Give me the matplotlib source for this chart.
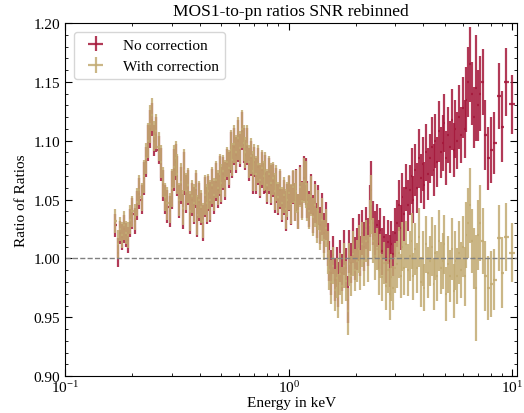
import numpy as np
import matplotlib.pyplot as plt

plt.rcParams['font.family'] = ['Liberation Serif', 'DejaVu Serif']
plt.rcParams['mathtext.fontset'] = 'stix'

# energy bins (keV)
energy = [
    0.168, 0.172, 0.176, 0.180, 0.184, 0.188, 0.192, 0.196, 0.200, 0.205, 0.210, 0.215, 0.220,
    0.225, 0.230, 0.235, 0.240, 0.245, 0.250, 0.256, 0.262, 0.268, 0.274, 0.280, 0.287, 0.294,
    0.300, 0.306, 0.312, 0.318, 0.324, 0.330, 0.336, 0.342, 0.349, 0.356, 0.363, 0.370, 0.377,
    0.384, 0.391, 0.398, 0.406, 0.414, 0.422, 0.430, 0.438, 0.446, 0.455, 0.464, 0.473, 0.482,
    0.491, 0.500,
    0.510, 0.520, 0.530, 0.540, 0.550, 0.560, 0.571, 0.582, 0.593, 0.604, 0.616, 0.628, 0.640,
    0.652, 0.664, 0.677, 0.690, 0.703, 0.716, 0.730, 0.744, 0.758, 0.772, 0.787, 0.802, 0.817,
    0.833, 0.849, 0.865, 0.881, 0.898, 0.915, 0.932, 0.950, 0.968, 0.986,
    1.005, 1.024, 1.043, 1.063, 1.083, 1.104, 1.125, 1.146, 1.168, 1.190, 1.213, 1.236, 1.259,
    1.283, 1.307, 1.332, 1.357, 1.383, 1.409, 1.436, 1.463, 1.491, 1.519, 1.548, 1.577, 1.607,
    1.638, 1.669, 1.700, 1.732, 1.765, 1.799, 1.833, 1.868, 1.903, 1.939, 1.976,
    2.014, 2.052, 2.091, 2.131, 2.171, 2.212, 2.254, 2.297, 2.341, 2.385, 2.430, 2.476, 2.523,
    2.571, 2.620, 2.670, 2.721, 2.772, 2.825, 2.878, 2.933, 2.989,
    3.046, 3.104, 3.163, 3.223, 3.284, 3.346, 3.410, 3.475, 3.541, 3.608, 3.676, 3.746, 3.817,
    3.890, 3.964, 4.039, 4.116, 4.194, 4.274, 4.355, 4.438, 4.522, 4.608, 4.696, 4.785, 4.876,
    4.969, 5.063, 5.159, 5.257, 5.357, 5.459, 5.563, 5.669, 5.777, 5.887, 5.999, 6.113, 6.229,
    6.347, 6.468, 6.591, 6.716,
    6.85, 7.00, 7.15, 7.35, 7.55, 7.80, 8.05, 8.30, 8.70, 9.00, 9.40, 10.0,
]

no_corr = [
    1.028, 1.005, 1.022, 1.018, 1.025, 1.020, 1.016, 1.030, 1.038, 1.032, 1.045, 1.055, 1.050,
    1.068, 1.082, 1.098, 1.110, 1.118, 1.100, 1.105, 1.092, 1.080, 1.062, 1.050, 1.044, 1.040,
    1.058, 1.075, 1.082, 1.070, 1.048, 1.062, 1.040, 1.072, 1.055, 1.060, 1.038, 1.050, 1.045,
    1.058, 1.035, 1.048, 1.042, 1.030, 1.052, 1.045, 1.055, 1.048, 1.060, 1.052, 1.065, 1.058,
    1.070, 1.062,
    1.072, 1.066, 1.080, 1.075, 1.090, 1.082, 1.095, 1.088, 1.100, 1.092, 1.108, 1.096, 1.088,
    1.095, 1.080, 1.085, 1.072, 1.082, 1.070, 1.078, 1.065, 1.075, 1.068, 1.072, 1.060, 1.070,
    1.062, 1.066, 1.055, 1.062, 1.050, 1.058, 1.045, 1.052, 1.040, 1.048,
    1.055, 1.045, 1.060, 1.048, 1.058, 1.040, 1.062, 1.050, 1.068, 1.065, 1.050, 1.042, 1.055,
    1.038, 1.048, 1.032, 1.045, 1.028, 1.038, 1.022, 1.032, 1.012, 0.998, 0.988, 1.003, 0.982,
    0.993, 0.978, 0.998, 0.988, 1.005, 0.992, 0.965, 1.006, 0.996, 1.015, 1.000,
    1.008, 1.018, 1.002, 1.022, 1.010, 1.026, 1.014, 1.040, 1.058, 1.030, 1.020, 1.028, 1.012,
    1.024, 1.006, 1.018, 1.000, 1.014, 0.998, 1.012, 1.004, 1.022,
    1.030, 1.045, 1.026, 1.052, 1.038, 1.060, 1.045, 1.058, 1.070, 1.050, 1.075, 1.060, 1.085,
    1.068, 1.080, 1.062, 1.090, 1.072, 1.085, 1.095, 1.075, 1.100, 1.082, 1.108, 1.090, 1.098,
    1.115, 1.085, 1.105, 1.095, 1.118, 1.092, 1.110, 1.100, 1.120, 1.105, 1.128, 1.110, 1.135,
    1.150, 1.165, 1.140, 1.120,
    1.145, 1.130, 1.140, 1.150, 1.105, 1.085, 1.092, 1.098, 1.138, 1.112, 1.150, 1.131,
]

with_corr = [
    1.032, 1.012, 1.025, 1.020, 1.028, 1.022, 1.020, 1.033, 1.040, 1.035, 1.048, 1.058, 1.052,
    1.070, 1.085, 1.100, 1.114, 1.122, 1.104, 1.108, 1.095, 1.082, 1.065, 1.052, 1.047, 1.043,
    1.060, 1.078, 1.085, 1.072, 1.050, 1.065, 1.043, 1.075, 1.057, 1.062, 1.040, 1.053, 1.047,
    1.060, 1.037, 1.050, 1.044, 1.032, 1.054, 1.047, 1.057, 1.050, 1.062, 1.054, 1.067, 1.060,
    1.072, 1.064,
    1.074, 1.068, 1.082, 1.077, 1.092, 1.084, 1.097, 1.090, 1.102, 1.094, 1.110, 1.098, 1.090,
    1.097, 1.082, 1.087, 1.074, 1.084, 1.072, 1.080, 1.067, 1.077, 1.070, 1.074, 1.062, 1.072,
    1.064, 1.068, 1.057, 1.064, 1.052, 1.060, 1.047, 1.054, 1.042, 1.050,
    1.056, 1.046, 1.061, 1.048, 1.057, 1.040, 1.061, 1.049, 1.066, 1.063, 1.048, 1.040, 1.053,
    1.035, 1.045, 1.028, 1.041, 1.023, 1.033, 1.016, 1.026, 1.005, 0.990, 0.980, 0.994, 0.973,
    0.983, 0.968, 0.987, 0.977, 0.994, 0.981, 0.955, 0.995, 0.985, 1.004, 0.990,
    0.998, 1.008, 0.990, 1.012, 0.998, 1.015, 1.000, 1.028, 1.046, 1.015, 1.002, 1.008, 0.990,
    1.002, 0.984, 0.996, 0.977, 0.990, 0.970, 0.984, 0.975, 0.992,
    0.995, 1.005, 0.985, 1.010, 0.992, 1.012, 0.990, 1.002, 1.015, 0.985, 1.008, 0.992, 1.018,
    0.980, 1.000, 0.975, 1.012, 0.988, 0.998, 1.010, 0.978, 1.005, 0.985, 1.015, 0.992, 0.998,
    1.012, 0.970, 0.995, 0.985, 1.008, 0.972, 0.998, 0.985, 1.005, 0.990, 1.010, 0.985, 1.020,
    1.030, 1.045, 1.015, 1.000,
    0.975, 1.020, 1.030, 1.015, 0.985, 0.975, 0.978, 0.982, 1.017, 0.988, 1.018, 1.005,
]

ratio_err = [
    0.010, 0.012, 0.010, 0.011, 0.012, 0.010, 0.011, 0.012, 0.013, 0.011, 0.012, 0.013, 0.012,
    0.014, 0.013, 0.015, 0.016, 0.014, 0.013, 0.015, 0.012, 0.014, 0.013, 0.012, 0.014, 0.013,
    0.016, 0.018, 0.015, 0.017, 0.014, 0.016, 0.015, 0.018, 0.016, 0.015, 0.017, 0.014, 0.016,
    0.015, 0.017, 0.016, 0.014, 0.015, 0.017, 0.016, 0.015, 0.017, 0.016, 0.014, 0.016, 0.015,
    0.017, 0.016,
    0.014, 0.016, 0.013, 0.015, 0.017, 0.014, 0.016, 0.015, 0.018, 0.014, 0.016, 0.015, 0.013,
    0.016, 0.014, 0.015, 0.017, 0.013, 0.015, 0.016, 0.014, 0.015, 0.013, 0.016, 0.014, 0.015,
    0.017, 0.014, 0.016, 0.015, 0.013, 0.016, 0.014, 0.015, 0.017, 0.015,
    0.015, 0.017, 0.014, 0.016, 0.018, 0.015, 0.017, 0.016, 0.019, 0.020, 0.016, 0.015, 0.017,
    0.016, 0.018, 0.015, 0.017, 0.016, 0.018, 0.017, 0.016, 0.018, 0.017, 0.019, 0.016, 0.018,
    0.017, 0.019, 0.018, 0.016, 0.019, 0.017, 0.020, 0.018, 0.017, 0.019, 0.018,
    0.018, 0.020, 0.017, 0.019, 0.021, 0.018, 0.020, 0.022, 0.025, 0.019, 0.020, 0.018, 0.021,
    0.019, 0.020, 0.018, 0.021, 0.019, 0.022, 0.020, 0.019, 0.021,
    0.020, 0.022, 0.019, 0.021, 0.023, 0.020, 0.022, 0.021, 0.024, 0.020, 0.022, 0.021, 0.025,
    0.021, 0.023, 0.020, 0.024, 0.022, 0.021, 0.025, 0.022, 0.023, 0.021, 0.026, 0.022, 0.024,
    0.025, 0.023, 0.024, 0.022, 0.026, 0.023, 0.025, 0.024, 0.027, 0.024, 0.026, 0.025, 0.028,
    0.030, 0.032, 0.027, 0.026,
    0.045, 0.030, 0.032, 0.028, 0.030, 0.027, 0.028, 0.026, 0.028, 0.030, 0.029, 0.025,
]

energy = np.array(energy)
edges = np.sqrt(energy[1:] * energy[:-1])
lo = energy - np.concatenate([[energy[0] ** 2 / edges[0]], edges])
hi = np.concatenate([edges, [energy[-1] ** 2 / edges[-1]]]) - energy
xerr = np.vstack([lo, hi])

red = '#a5173a'
tan = '#c2ab72'

fig, ax = plt.subplots(figsize=(5.24, 4.14), dpi=100)
fig.subplots_adjust(left=0.124, right=0.987, top=0.942, bottom=0.089)

ax.errorbar(energy, no_corr, yerr=ratio_err, xerr=xerr, fmt='none', ecolor=red,
            elinewidth=1.6, alpha=0.85, label='No correction')
ax.errorbar(energy, with_corr, yerr=ratio_err, xerr=xerr, fmt='none', ecolor=tan,
            elinewidth=1.6, alpha=0.85, label='With correction')
ax.axhline(1.0, color='gray', ls='--', lw=1.0)

ax.set_xscale('log')
ax.set_xlim(0.1, 10.5)
ax.set_ylim(0.90, 1.20)
ax.set_yticks(np.arange(0.90, 1.201, 0.05))
ax.yaxis.set_minor_locator(plt.MultipleLocator(0.01))
ax.tick_params(which='both', direction='in', top=True, right=True, labelsize=11)
ax.tick_params(which='major', length=5)
ax.tick_params(which='minor', length=2.5)
ax.tick_params(axis='x', pad=2)

ax.set_xlabel('Energy in keV', fontsize=11, labelpad=1)
ax.set_ylabel('Ratio of Ratios', fontsize=11)
ax.set_title('MOS1-to-pn ratios SNR rebinned', fontsize=12.5)
ax.legend(loc='upper left', fontsize=11, borderaxespad=0.6)

fig.savefig('out.png', dpi=100)
